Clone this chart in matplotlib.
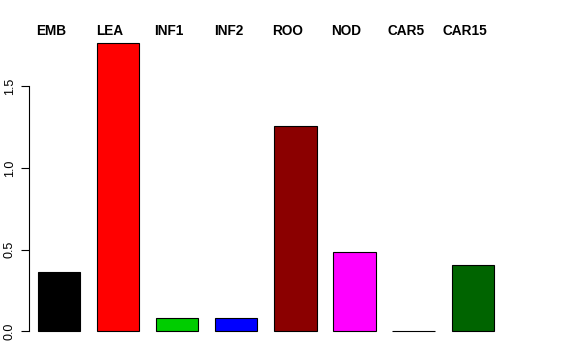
import matplotlib
matplotlib.use("Agg")
import matplotlib.pyplot as plt
import matplotlib.transforms as mtransforms
import numpy as np

categories = ["EMB", "LEA", "INF1", "INF2", "ROO", "NOD", "CAR5", "CAR15"]
values = [0.362, 1.767, 0.082, 0.082, 1.258, 0.485, 0.002, 0.405]
colors = ["#000000", "#FF0000", "#00CD00", "#0000FF", "#8B0000", "#FF00FF", "#BEBEBE", "#006400"]
yticks = [0.0, 0.5, 1.0, 1.5]
ytick_labels = ["0.0", "0.5", "1.0", "1.5"]

plt.rcParams['font.family'] = ['Liberation Sans', 'DejaVu Sans']

W, H = 576, 360
fig = plt.figure(figsize=(W / 100, H / 100), dpi=100)

# axes placement in pixels
left_px, right_px, top_px, bot_px = 29, 547, 31, 342.5
ax = fig.add_axes([left_px / W, 1 - bot_px / H, (right_px - left_px) / W, (bot_px - top_px) / H])

space, width = 0.4, 1.0
x = np.array([space + i * (width + space) + width / 2 for i in range(len(values))])
ax.bar(x, values, width=width, color=colors, edgecolor="black", linewidth=0.8)

px_per_unit_x = 42.2
ax.set_xlim(space - (38 - left_px) / px_per_unit_x, space + (right_px - 38) / px_per_unit_x)
px_per_unit_y = 163.0
ax.set_ylim(-(bot_px - 331) / px_per_unit_y, (331 - top_px) / px_per_unit_y)

for s in ["top", "right", "bottom"]:
    ax.spines[s].set_visible(False)
ax.spines["left"].set_bounds(0, 1.5)
ax.spines["left"].set_linewidth(0.8)
ax.set_xticks([])
ax.set_yticks(yticks)
ax.set_yticklabels(ytick_labels, rotation=90, va="center", fontsize=9)
ax.tick_params(axis="y", length=6, width=0.8, pad=3.5)

# labels along the top, slightly left of each bar centre
trans = mtransforms.blended_transform_factory(ax.transData, fig.transFigure)
label_offset = -8 / px_per_unit_x
for xi, c in zip(x, categories):
    ax.text(xi + label_offset, 1 - 31 / H, c, transform=trans,
            ha="center", va="center", fontsize=9.8, fontweight="bold")

fig.savefig("out.png", dpi=100)
